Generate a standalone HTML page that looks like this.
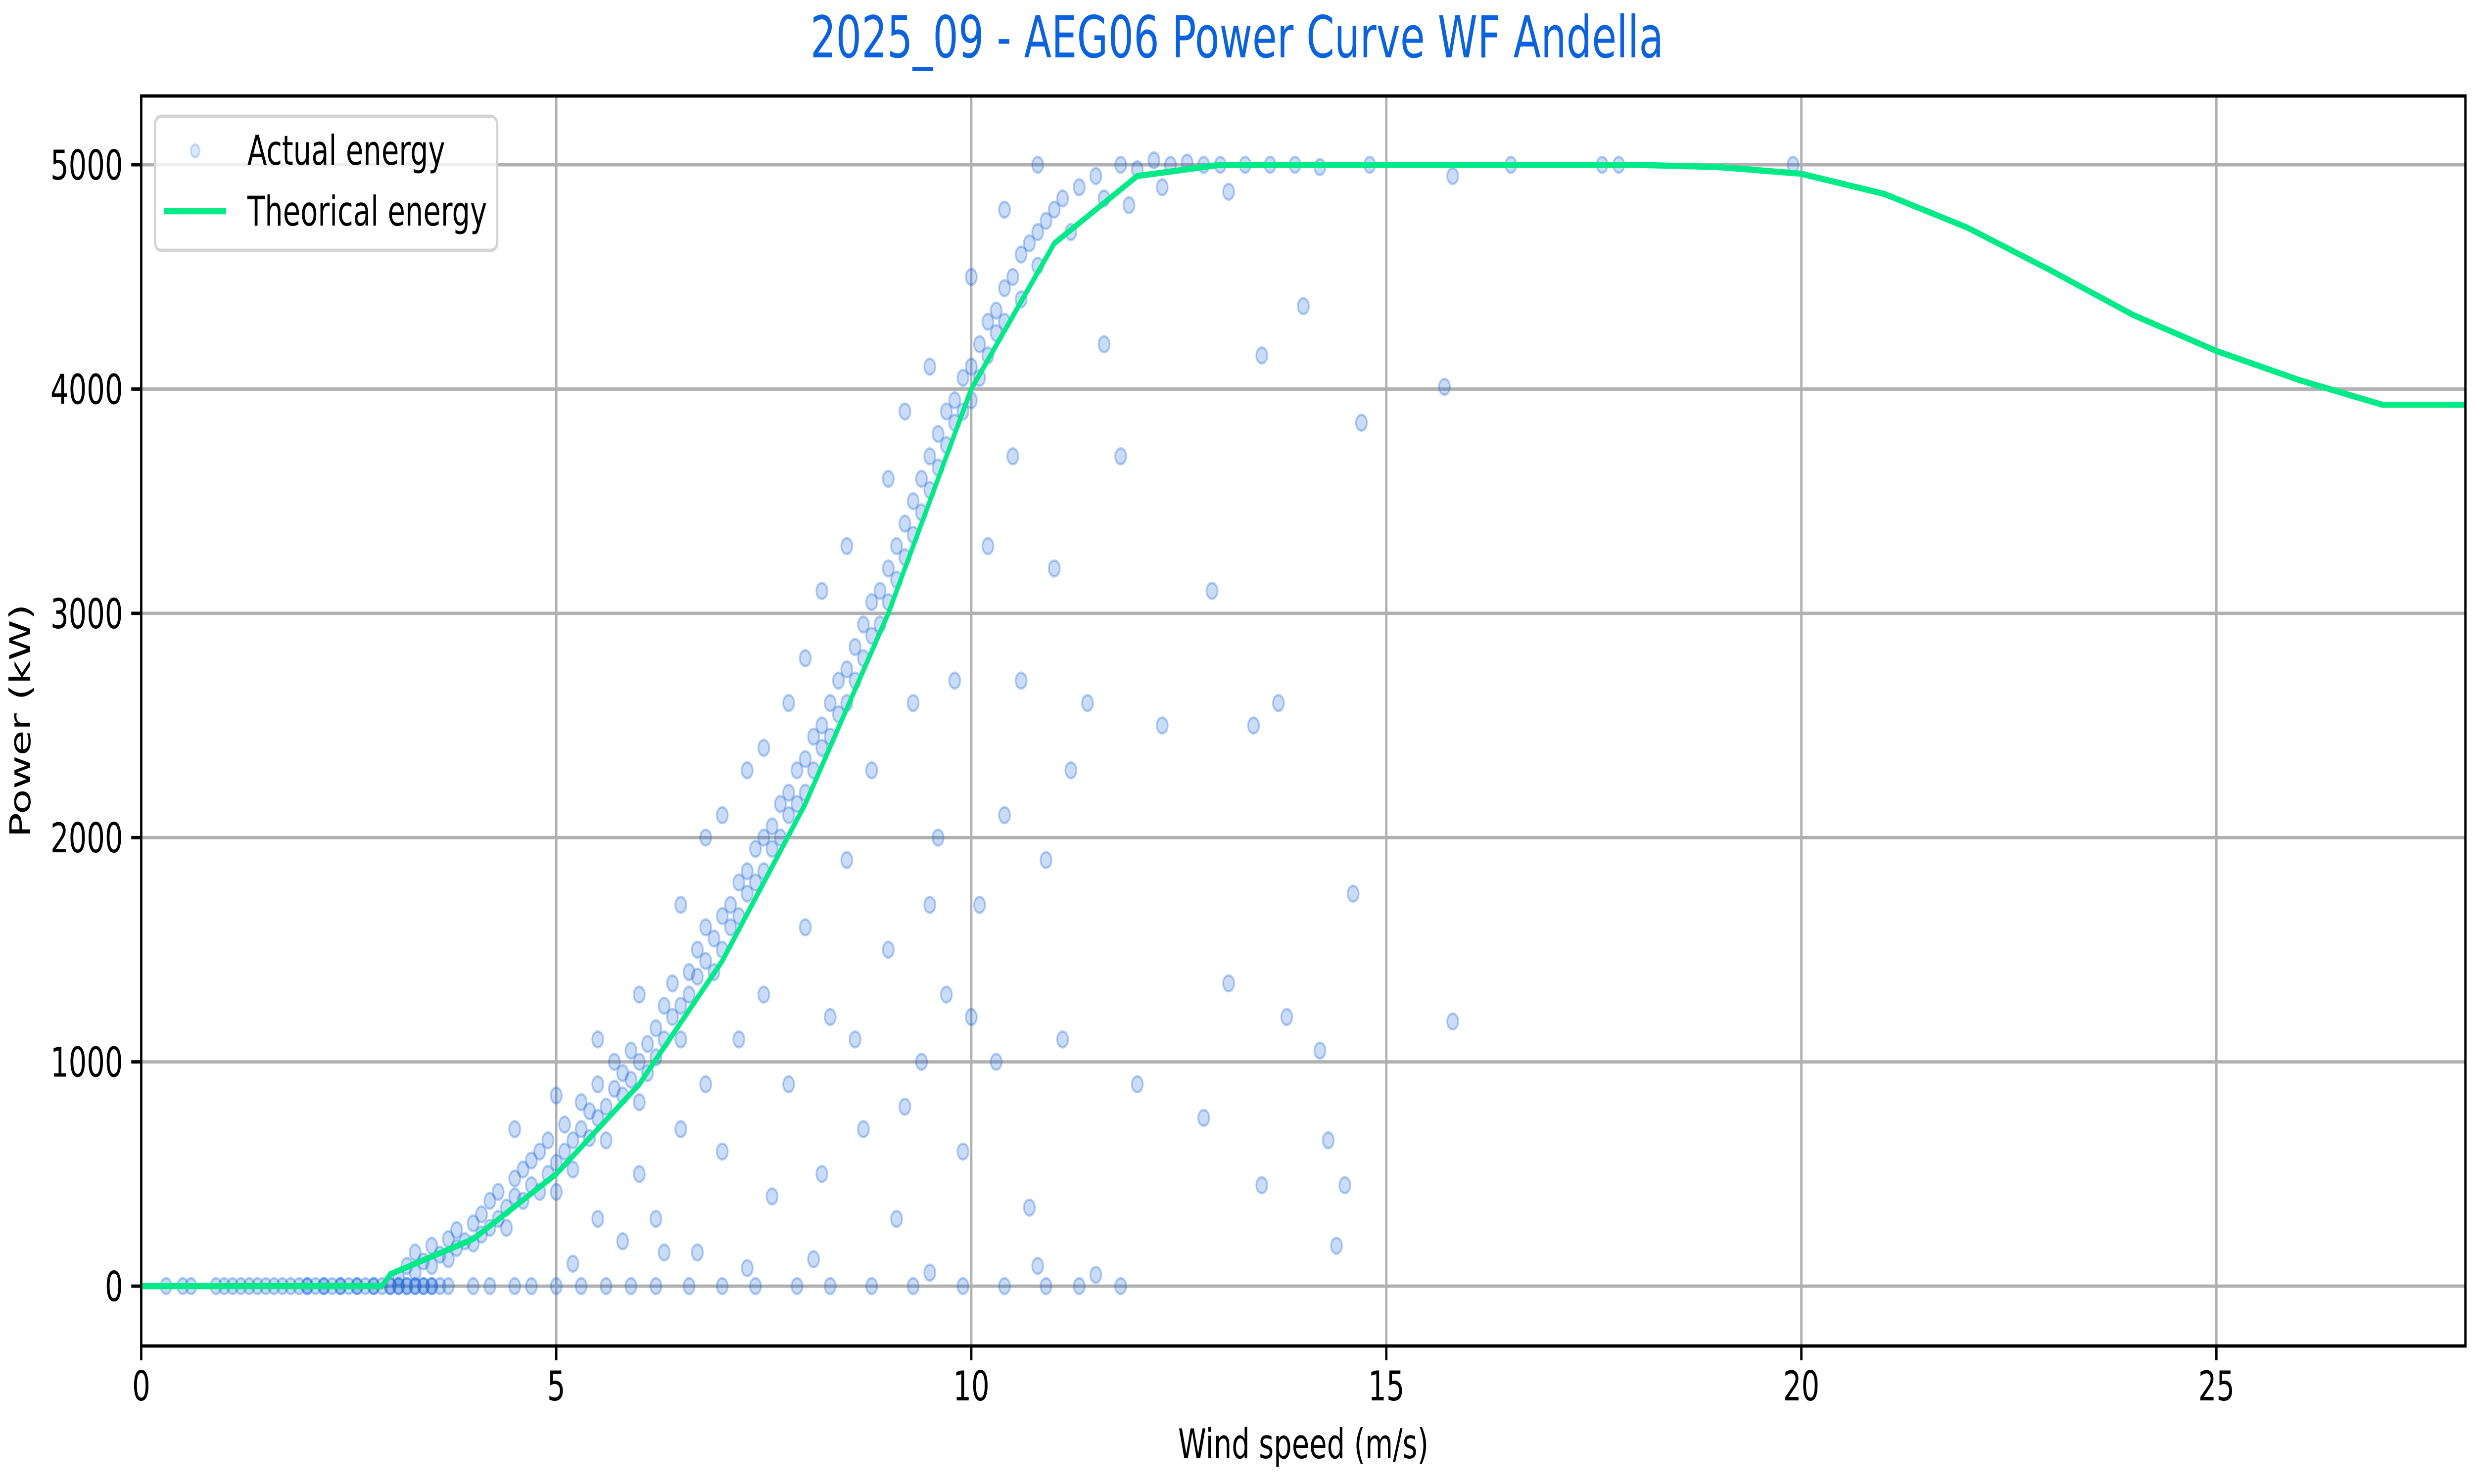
<!DOCTYPE html>
<html><head><meta charset="utf-8"><style>
html,body{margin:0;padding:0;background:#fff;width:100%;height:100%;overflow:hidden}
svg{display:block;width:100vw;height:100vh}
text{font-family:"DejaVu Sans","Liberation Sans",sans-serif}
</style></head><body>
<svg id="chart" viewBox="0 0 7200 3000" preserveAspectRatio="none" xmlns="http://www.w3.org/2000/svg">
<rect width="7200" height="3000" fill="#fff"/>
<text x="3600" y="116" font-size="117" fill="#0a62dc" text-anchor="middle">2025_09 - AEG06 Power Curve WF Andella</text>
<g id="grid"></g>
<g id="scatter"></g>
<g id="lineg"></g>
<rect x="411" y="194" width="6764" height="2527" fill="none" stroke="#000" stroke-width="6.7"/>
<g id="ticks"></g>
<text x="3793" y="2948" font-size="83" text-anchor="middle">Wind speed (m/s)</text>
<text x="0" y="0" font-size="83" text-anchor="middle" transform="translate(88,1457) rotate(-90)">Power (kW)</text>
<g>
<rect x="451" y="235" width="996" height="271" rx="17" fill="#fff" fill-opacity="0.8" stroke="#d4d4d4" stroke-width="6.7"/>
<circle cx="568" cy="305" r="13" fill="#0d5fdb" fill-opacity="0.15" stroke="#0d5fdb" stroke-opacity="0.2" stroke-width="5"/>
<text x="720" y="333" font-size="83">Actual energy</text>
<line x1="478" y1="427" x2="658" y2="427" stroke="#00ea88" stroke-width="12.5"/>
<text x="720" y="456" font-size="83">Theorical energy</text>
</g>
</svg>
<script>
const xTicks=[0,5,10,15,20,25];
const yTicks=[0,1000,2000,3000,4000,5000];
const theoX=[0,1,2,2.9,3,4,5,6,7,8,9,10,11,12,13,14,15,16,17,18,19,20,21,22,23,24,25,26,27,28];
const theoY=[0,0,0,0,53,210,500,900,1450,2150,3000,4000,4650,4950,5000,5000,5000,5000,5000,5000,4990,4960,4870,4720,4530,4330,4170,4040,3930,3930];
const windX=[0.3,0.5,0.6,0.9,1.0,1.1,1.2,1.3,1.4,1.5,1.6,1.7,1.8,1.9,2.0,2.1,2.2,2.3,2.4,2.5,2.6,2.7,2.8,2.9,3.0,3.1,3.2,3.3,3.4,3.5,3.6,3.7,2.0,2.2,2.4,2.6,2.8,3.0,3.1,3.2,3.3,3.4,3.5,
4.0,4.2,4.5,4.7,5.0,5.3,5.6,5.9,6.2,6.6,7.0,7.4,7.9,8.3,8.8,9.3,9.9,10.4,10.9,11.3,11.8,
3.1,3.2,3.3,3.3,3.4,3.5,3.5,3.6,3.7,3.7,3.8,3.8,3.9,4.0,4.0,4.1,4.1,4.2,4.2,4.3,4.3,4.4,4.4,4.5,4.5,4.6,4.6,4.7,4.7,4.8,4.8,4.9,4.9,5.0,5.0,5.1,5.1,5.2,5.2,5.3,5.3,5.4,5.4,5.5,5.5,5.6,5.6,5.7,5.7,5.8,5.8,5.9,5.9,6.0,6.0,6.1,6.1,6.2,6.2,6.3,6.3,6.4,6.4,6.5,6.5,6.6,6.6,6.7,6.7,6.8,6.8,6.9,6.9,7.0,7.0,7.1,7.1,7.2,7.2,7.3,7.3,7.4,7.4,7.5,7.5,7.6,7.6,7.7,7.7,7.8,7.8,7.9,7.9,8.0,8.0,8.1,8.1,8.2,8.2,8.3,8.3,8.4,8.4,8.5,8.5,8.6,8.6,8.7,8.7,8.8,8.8,8.9,8.9,9.0,9.0,9.1,9.1,9.2,9.2,9.3,9.3,9.4,9.4,9.5,9.5,9.6,9.6,9.7,9.7,9.8,9.8,9.9,9.9,10.0,10.0,10.1,10.1,10.2,10.2,10.3,10.3,10.4,10.4,10.5,10.6,10.6,10.7,10.8,10.8,10.9,11.0,11.1,11.2,11.3,11.5,11.6,11.8,12.0,12.2,12.4,12.6,12.8,13.0,13.3,13.6,13.9,14.2,14.8,16.5,17.6,17.8,19.9,15.8,11.9,12.3,13.1,
4.5,5.0,5.5,6.0,6.5,7.0,7.5,6.8,7.3,8.0,8.5,9.0,9.5,10.0,10.4,10.8,9.2,8.2,7.8,
5.5,6.0,6.2,6.5,6.8,7.0,7.2,7.5,7.8,8.0,8.2,8.3,8.5,8.7,8.8,9.0,9.1,9.3,9.4,9.5,9.6,9.7,9.8,9.9,10.0,10.1,10.2,10.3,10.4,10.5,10.6,10.7,11.0,11.2,11.4,11.6,11.8,12.0,12.3,12.9,12.8,13.1,13.4,13.5,13.7,13.8,14.0,14.2,14.3,14.4,14.5,14.6,14.7,13.5,15.8,15.7,9.2,8.6,7.6,6.3,5.8,10.9,11.1,
5.2,6.7,7.3,8.1,9.5,10.8,11.5];
const powerY=[0,0,0,0,0,0,0,0,0,0,0,0,0,0,0,0,0,0,0,0,0,0,0,0,0,0,0,0,0,0,0,0,0,0,0,0,0,0,0,0,0,0,0,
0,0,0,0,0,0,0,0,0,0,0,0,0,0,0,0,0,0,0,0,0,
40,90,60,150,110,180,90,140,210,120,250,170,200,280,190,320,230,260,380,300,420,350,260,400,480,380,520,450,560,420,600,500,650,550,420,600,720,650,520,700,820,660,780,750,900,800,650,880,1000,850,950,920,1050,1000,820,1080,950,1150,1020,1100,1250,1200,1350,1250,1100,1400,1300,1380,1500,1450,1600,1550,1400,1650,1500,1700,1600,1800,1650,1850,1750,1950,1800,2000,1850,2050,1950,2150,2000,2200,2100,2300,2150,2350,2200,2450,2300,2500,2400,2600,2450,2700,2550,2750,2600,2850,2700,2950,2800,3050,2900,3100,2950,3200,3050,3300,3150,3400,3250,3500,3350,3600,3450,3700,3550,3800,3650,3900,3750,3950,3850,4050,3900,4100,3950,4200,4050,4300,4150,4350,4250,4450,4300,4500,4600,4400,4650,4700,4550,4750,4800,4850,4700,4900,4950,4850,5000,4980,5020,5000,5010,5000,5000,5000,5000,5000,4990,5000,5000,5000,5000,5000,4950,4820,4900,4880,
700,850,1100,1300,1700,2100,2400,2000,2300,2800,3300,3600,4100,4500,4800,5000,3900,3100,2600,
300,500,300,700,900,600,1100,1300,900,1600,500,1200,1900,700,2300,1500,300,2600,1000,1700,2000,1300,2700,600,1200,1700,3300,1000,2100,3700,2700,350,3200,2300,2600,4200,3700,900,2500,3100,750,1350,2500,450,2600,1200,4370,1050,650,180,450,1750,3850,4150,1180,4010,800,1100,400,150,200,1900,1100,
100,150,80,120,60,90,50];

const L=411,R=7175,T=194,B=2721,X0=0,X1=28,Y0=-267,Y1=5307;
function sx(v){return L+(v-X0)/(X1-X0)*(R-L);}
function sy(v){return B-(v-Y0)/(Y1-Y0)*(B-T);}
const NS="http://www.w3.org/2000/svg";
function mk(tag,attrs,parent){const e=document.createElementNS(NS,tag);for(const k in attrs)e.setAttribute(k,attrs[k]);parent.appendChild(e);return e;}
const grid=document.getElementById('grid'),ticks=document.getElementById('ticks');
xTicks.forEach(t=>{
  const g=mk('line',{x1:sx(t),x2:sx(t),y1:T,y2:B,stroke:'#b0b0b0','stroke-width':6.7},grid);
  
  
  const tk=mk('line',{x1:sx(t),x2:sx(t),y1:B,y2:B+29,stroke:'#000','stroke-width':6.7},ticks);
  
  
  const tl=mk('text',{x:sx(t),y:B+110,'font-size':83,'text-anchor':'middle'},ticks);
  tl.textContent=t;
  
  
});
yTicks.forEach(t=>{
  const g=mk('line',{x1:L,x2:R,y1:sy(t),y2:sy(t),stroke:'#b0b0b0','stroke-width':6.7},grid);
  
  
  const tk=mk('line',{x1:L-29,x2:L,y1:sy(t),y2:sy(t),stroke:'#000','stroke-width':6.7},ticks);
  
  
  const tl=mk('text',{x:L-53,y:sy(t)+30,'font-size':83,'text-anchor':'end'},ticks);
  tl.textContent=t;
  
  
});
const sc=document.getElementById('scatter');
for(let i=0;i<windX.length;i++){
  const c=mk('circle',{cx:sx(windX[i]),cy:sy(powerY[i]),r:16,fill:'#0d5fdb','fill-opacity':0.22,stroke:'#0d5fdb','stroke-opacity':0.3,'stroke-width':5},sc);
  
  
}
const pts=theoX.map((x,i)=>sx(x).toFixed(1)+','+sy(theoY[i]).toFixed(1)).join(' ');
const pl=mk('polyline',{points:pts,fill:'none',stroke:'#00ea88','stroke-width':12.5,'stroke-linejoin':'round'},document.getElementById('lineg'));


</script>
</body></html>
